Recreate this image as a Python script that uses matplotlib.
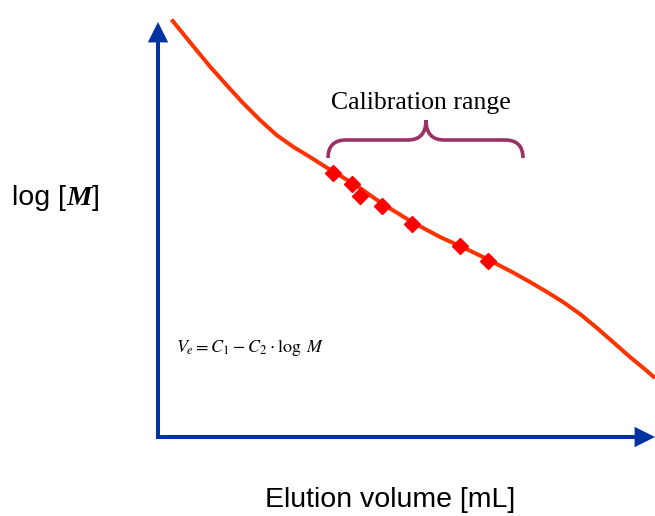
import matplotlib
matplotlib.use("Agg")
import matplotlib.pyplot as plt
from matplotlib.patches import FancyArrowPatch, ArrowStyle, PathPatch
from matplotlib.path import Path
import matplotlib.transforms as mtransforms

plt.rcParams["mathtext.fontset"] = "stix"

# Calibration curve: elution volume (mL) vs log M (arbitrary units)
curve_volume = [0.27, 0.71, 1.04, 1.37, 1.71, 2.04, 2.37, 2.71, 3.04, 3.37,
                3.51, 3.88, 4.04, 4.48, 5.08, 5.64, 6.04, 6.44, 6.60, 7.10,
                7.44, 7.78, 8.10, 8.44, 8.78, 9.10, 9.44, 9.78, 9.94]
curve_logm = [8.35, 7.81, 7.41, 7.04, 6.67, 6.34, 6.04, 5.80, 5.60, 5.39,
              5.31, 5.08, 4.98, 4.67, 4.30, 4.00, 3.82, 3.63, 3.55, 3.29,
              3.10, 2.90, 2.70, 2.46, 2.18, 1.90, 1.60, 1.32, 1.18]

# Calibration standards
std_volume = [3.50, 3.88, 4.04, 4.48, 5.08, 6.04, 6.60]
std_logm = [5.28, 5.06, 4.82, 4.62, 4.26, 3.82, 3.52]

W, H, DPI = 655, 516, 100
fig = plt.figure(figsize=(W / DPI, H / DPI), dpi=DPI)
ax = fig.add_axes([0, 0, 1, 1])
ax.set_xlim(-3.16, 9.94)
ax.set_ylim(-1.58, 8.74)
ax.axis("off")

# pixel helper transform (origin top-left) for annotations
px = mtransforms.Affine2D().scale(1 / W, -1 / H).translate(0, 1) + fig.transFigure

blue = "#0033A0"
head = ArrowStyle("-|>", head_length=10, head_width=5)
for start, end in [((-0.04, 0), (9.94, 0)), ((0, -0.04), (0, 8.3))]:
    arr = FancyArrowPatch(start, end, arrowstyle=head, mutation_scale=1,
                          color=blue, lw=2.9, shrinkA=0, shrinkB=0,
                          joinstyle="miter", capstyle="butt")
    ax.add_patch(arr)

ax.plot(curve_volume, curve_logm, color="#FF3300", lw=2.9,
        solid_capstyle="butt", solid_joinstyle="round", zorder=3)
ax.plot(std_volume, std_logm, linestyle="none", marker="D", ms=8,
        color="#FF0000", mec="#FF0000", zorder=4)

# curly brace above the calibration range
verts = [(328, 158), (328, 140), (346, 140), (408, 140), (426, 140), (426, 120),
         (426, 140), (444, 140), (505, 140), (523, 140), (523, 158)]
codes = [Path.MOVETO, Path.CURVE3, Path.CURVE3, Path.LINETO, Path.CURVE3, Path.CURVE3,
         Path.CURVE3, Path.CURVE3, Path.LINETO, Path.CURVE3, Path.CURVE3]
brace = PathPatch(Path(verts, codes), transform=px, fill=False,
                  edgecolor="#993366", lw=2.6, capstyle="butt")
ax.add_patch(brace)

ax.text(421, 103, "Calibration range", transform=px, ha="center", va="center",
        family="Liberation Serif", fontsize=18.5, color="black")

ax.text(176, 348, r"$V_e = C_1 - C_2 \cdot \log\ M$", transform=px,
        ha="left", va="center", fontsize=13, color="black")

ax.text(390, 500, "Elution volume [mL]", transform=px, ha="center", va="center",
        family="Liberation Sans", fontsize=20.5, color="black")

t1 = ax.text(12, 205, "log [", transform=px, ha="left", va="baseline",
             family="Liberation Sans", fontsize=20.5)
t2 = ax.annotate("M", xy=(1, 0), xycoords=t1, va="bottom", ha="left",
                 family="Liberation Serif", fontsize=20.5, fontweight="bold",
                 fontstyle="italic")
t3 = ax.annotate("]", xy=(1, 0), xycoords=t2, va="bottom", ha="left",
                 family="Liberation Sans", fontsize=20.5)

fig.savefig("out.png", dpi=DPI)
